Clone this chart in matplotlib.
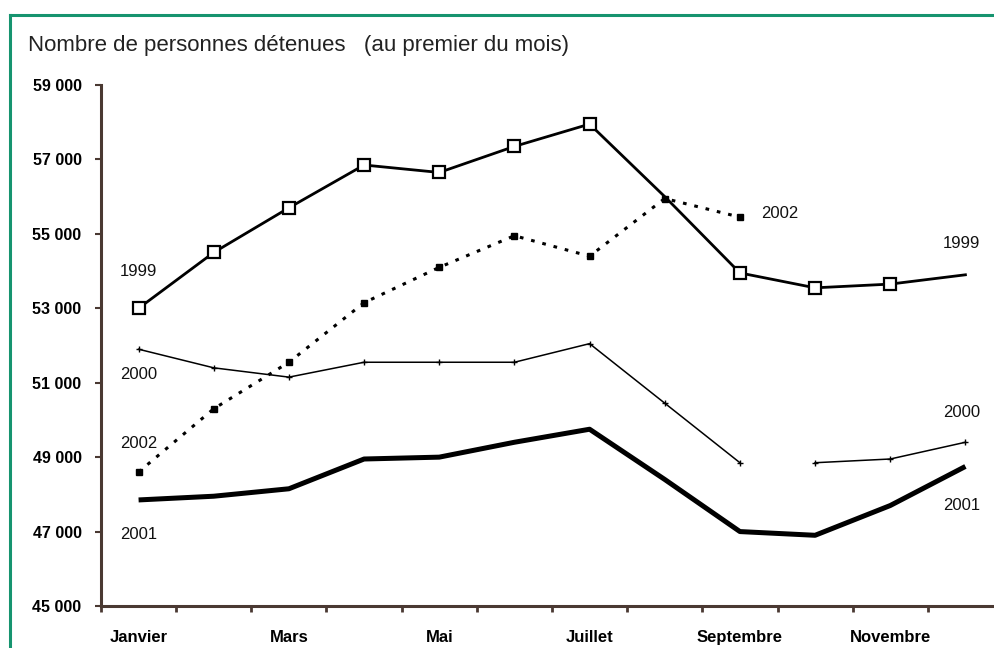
import matplotlib
matplotlib.use("Agg")
import matplotlib.pyplot as plt
from matplotlib.lines import Line2D

# nombre de personnes detenues au premier du mois
mois = ['Janvier', 'Février', 'Mars', 'Avril', 'Mai', 'Juin', 'Juillet',
        'Août', 'Septembre', 'Octobre', 'Novembre', 'Décembre']
d1999 = [53000, 54500, 55700, 56850, 56650, 57350, 57950, 56000, 53950, 53550, 53650, 53900]
d2000 = [51900, 51400, 51150, 51550, 51550, 51550, 52050, 50450, 48850, 48850, 48950, 49400]
d2001 = [47850, 47950, 48150, 48950, 49000, 49400, 49750, 48400, 47000, 46900, 47700, 48750]
d2002 = [48600, 50300, 51550, 53150, 54100, 54950, 54400, 55950, 55450]

y_ticks = [45000, 47000, 49000, 51000, 53000, 55000, 57000, 59000]

plt.rcParams['font.family'] = ['Liberation Sans', 'DejaVu Sans']

W, H = 994, 648
fig = plt.figure(figsize=(W / 100, H / 100), dpi=100)
ax = fig.add_axes([101 / W, (H - 606) / H, 902 / W, 521 / H])

x = list(range(len(mois)))
brun = '#4a3932'

# 1999 : pas de carre visible en aout et decembre sur l'original
ax.plot(x, d1999, color='black', lw=2, marker='s', ms=8, mfc='white', mec='black', mew=1.6,
        markevery=[0, 1, 2, 3, 4, 5, 6, 8, 9, 10], zorder=4)
# 2000: le segment septembre-octobre manque sur l'original
ax.plot(x[:9], d2000[:9], color='black', lw=1.1, marker='+', ms=5, mew=1, zorder=3)
ax.plot(x[9:], d2000[9:], color='black', lw=1.1, marker='+', ms=5, mew=1, zorder=3)
ax.plot(x, d2001, color='black', lw=3.6, solid_capstyle='butt', zorder=3)
ax.plot(x[:len(d2002)], d2002, color='black', lw=2.2, ls=(0, (1.2, 2.6)),
        marker='s', ms=5, zorder=3)

# etiquettes des series
lab = dict(fontsize=12, ha='center', va='center', color='#111111')
ax.text(0, 53980, '1999', **lab)
ax.text(0, 51230, '2000', **lab)
ax.text(0, 49380, '2002', **lab)
ax.text(0, 46910, '2001', **lab)
ax.text(8.53, 55560, '2002', **lab)
ax.text(10.95, 54750, '1999', **lab)
ax.text(10.95, 50210, '2000', **lab)
ax.text(10.95, 47690, '2001', **lab)

ax.set_xlim(-0.5, 11.5)
ax.set_ylim(45000, 59000)
ax.set_yticks(y_ticks)
ax.set_yticklabels([f"{v // 1000} 000" for v in y_ticks], fontsize=11.5, fontweight='bold')
ax.set_xticks([i + 0.5 for i in range(-1, 12)])
ax.set_xticklabels([])
ax.set_xticks(x[::2], minor=True)
ax.set_xticklabels(mois[::2], minor=True, fontsize=12, fontweight='bold')
ax.tick_params(axis='x', which='minor', length=0, pad=17)
ax.tick_params(axis='x', which='major', direction='out', length=4, width=2, color=brun)
ax.tick_params(axis='y', direction='out', length=4, width=1.5, color=brun, pad=10)

for s in ['top', 'right']:
    ax.spines[s].set_visible(False)
for s in ['left', 'bottom']:
    ax.spines[s].set_color(brun)
    ax.spines[s].set_linewidth(2.2)

fig.text(28 / W, 1 - 46 / H, 'Nombre de personnes détenues   (au premier du mois)',
         fontsize=16, ha='left', va='center', color='#222222')

# cadre vert
vert = '#16946f'
fig.add_artist(Line2D([9.5 / W, 9.5 / W], [0, 1 - 15 / H], transform=fig.transFigure, color=vert, lw=2.2))
fig.add_artist(Line2D([9.5 / W, 1], [1 - 15 / H, 1 - 15 / H], transform=fig.transFigure, color=vert, lw=2.2))

fig.savefig('out.png', dpi=100)
